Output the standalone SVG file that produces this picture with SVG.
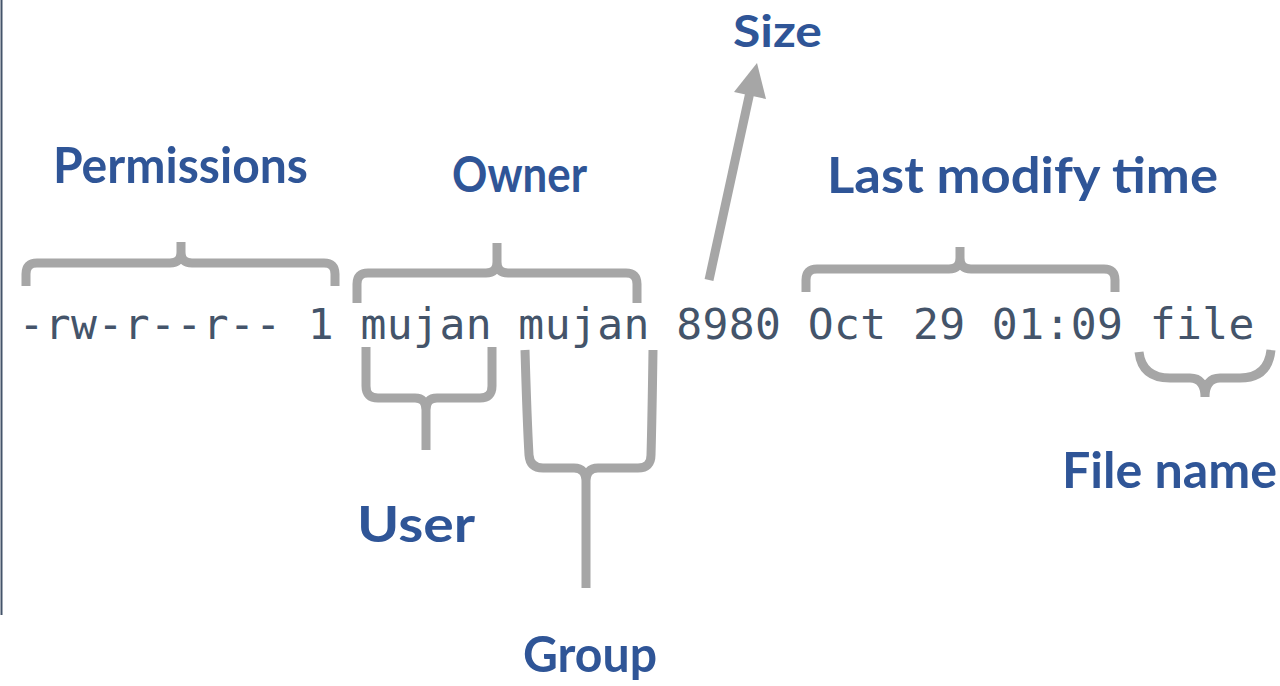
<svg xmlns="http://www.w3.org/2000/svg" width="1280" height="686" viewBox="0 0 1280 686">
<style>
.lbl{font-family:Lato,"Noto Sans","Liberation Sans",sans-serif;font-weight:bold;font-size:50px;fill:#2F5597}
.mono{font-family:"DejaVu Sans Mono","Liberation Mono",monospace;font-size:43px;fill:#44546A}
.br{fill:none;stroke:#A6A6A6;stroke-width:9;stroke-linejoin:round}
</style>
<rect x="0" y="0" width="1280" height="686" fill="#FFFFFF"/>
<line x1="1.5" y1="0" x2="1.5" y2="615" stroke="#44546A" stroke-width="2"/>
<g id="listing">
<text class="mono" x="18.5" y="339" textLength="1236" lengthAdjust="spacing">-rw-r--r-- 1 mujan mujan 8980 Oct 29 01:09 file</text>
</g>
<g id="connectors">
<path id="brace-permissions" class="br" d="M26 286 V274 Q26 263 37 263 H170 Q181 263 181 252 V242 M181 252 Q181 263 192 263 H324 Q335 263 335 274 V286"/>
<path id="brace-owner" class="br" d="M357 303 V284 Q357 273 368 273 H486 Q497 273 497 262 V243 M497 262 Q497 273 508 273 H626 Q637 273 637 284 V303"/>
<path id="brace-user" class="br" d="M366 347 V386 Q366 398 378 398 H415 Q426 398 426 410 V450 M426 410 Q426 398 437 398 H480 Q492 398 492 386 V347"/>
<path id="brace-group" class="br" d="M525 350 Q527 420 529 455 Q530 468 543 468 H574 Q586 468 586 482 V588 M586 482 Q586 468 598 468 H638 Q651 468 651 455 Q652 420 653 350"/>
<path id="brace-time" class="br" d="M806 292 V280 Q806 269 817 269 H949 Q960 269 960 258 V247 M960 258 Q960 269 971 269 H1104 Q1115 269 1115 280 V292"/>
<path id="brace-file" class="br" d="M1139 352 Q1142 378 1170 378 H1190 Q1205 378 1205 397 M1205 397 Q1205 378 1220 378 H1240 Q1268 378 1271 350"/>
<line id="arrow-size" x1="709" y1="280" x2="750" y2="92" stroke="#A6A6A6" stroke-width="9"/>
<polygon points="757,63 734,92 766,99" fill="#A6A6A6"/>
</g>
<g id="label-permissions"><text class="lbl" x="53" y="183" textLength="255" lengthAdjust="spacingAndGlyphs">Permissions</text></g>
<g id="label-owner"><text class="lbl" x="452" y="192" textLength="135" lengthAdjust="spacingAndGlyphs">Owner</text></g>
<g id="label-size"><text class="lbl" x="733" y="47" style="font-size:44px" textLength="89" lengthAdjust="spacingAndGlyphs">Size</text></g>
<g id="label-time"><text class="lbl" x="827" y="193" textLength="391" lengthAdjust="spacingAndGlyphs">Last modify time</text></g>
<g id="label-filename"><text class="lbl" x="1062" y="488" textLength="215" lengthAdjust="spacingAndGlyphs">File name</text></g>
<g id="label-user"><text class="lbl" x="357" y="542" textLength="118" lengthAdjust="spacingAndGlyphs">User</text></g>
<g id="label-group"><text class="lbl" x="523" y="672" textLength="134" lengthAdjust="spacingAndGlyphs">Group</text></g>
</svg>
